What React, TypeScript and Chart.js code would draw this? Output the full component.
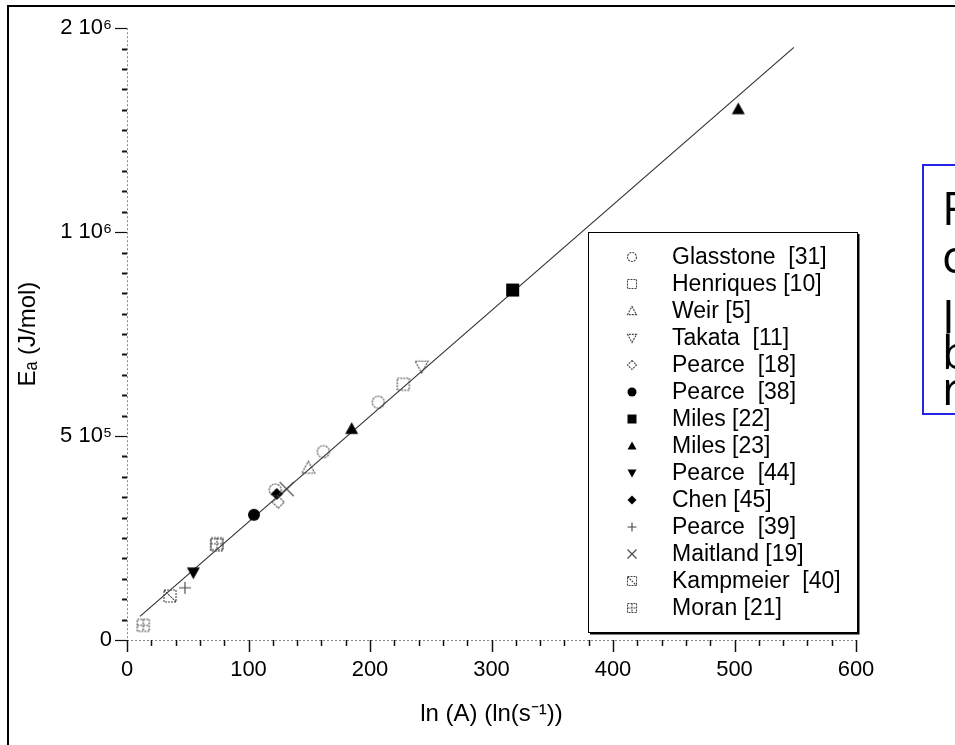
import React, { useEffect, useRef } from "react";
import { Chart, registerables } from "chart.js";

Chart.register(...registerables);

// ---------- data ----------
const seriesNames = [
  "Glasstone  [31]",
  "Henriques [10]",
  "Weir [5]",
  "Takata  [11]",
  "Pearce  [18]",
  "Pearce  [38]",
  "Miles [22]",
  "Miles [23]",
  "Pearce  [44]",
  "Chen [45]",
  "Pearce  [39]",
  "Maitland [19]",
  "Kampmeier  [40]",
  "Moran [21]",
];
const seriesMarkers = [
  "circleOpen",
  "squareOpen",
  "triUpOpen",
  "triDownOpen",
  "diamondOpen",
  "circleFilled",
  "squareFilled",
  "triUpFilled",
  "triDownFilled",
  "diamondFilled",
  "plus",
  "cross",
  "kamp",
  "moran",
];

const glasstoneLnA = [122, 161.6, 206.8];
const glasstoneEa = [368000, 462000, 583000];
const henriquesLnA = [73.8, 227.4];
const henriquesEa = [233000, 627000];
const weirLnA = [149.2];
const weirEa = [422000];
const takataLnA = [242.5];
const takataEa = [671000];
const pearce18LnA = [124.5];
const pearce18Ea = [338000];
const pearce38LnA = [104.5];
const pearce38Ea = [307000];
const miles22LnA = [317.4];
const miles22Ea = [858000];
const miles23LnA = [184.9, 503.1];
const miles23Ea = [518000, 1302000];
const pearce44LnA = [54.6];
const pearce44Ea = [165000];
const chenLnA = [123.2];
const chenEa = [358000];
const pearce39LnA = [47.7];
const pearce39Ea = [128000];
const maitlandLnA = [131.4];
const maitlandEa = [370000];
const kampmeierLnA = [35.4];
const kampmeierEa = [108000];
const moranLnA = [13.4, 74];
const moranEa = [36000, 236000];

const seriesLnA = [
  glasstoneLnA, henriquesLnA, weirLnA, takataLnA, pearce18LnA, pearce38LnA, miles22LnA,
  miles23LnA, pearce44LnA, chenLnA, pearce39LnA, maitlandLnA, kampmeierLnA, moranLnA,
];
const seriesEa = [
  glasstoneEa, henriquesEa, weirEa, takataEa, pearce18Ea, pearce38Ea, miles22Ea,
  miles23Ea, pearce44Ea, chenEa, pearce39Ea, maitlandEa, kampmeierEa, moranEa,
];

const fitLineLnA = [10.7, 548.9];
const fitLineEa = [58000, 1453000];

const xTickValues = [0, 100, 200, 300, 400, 500, 600];
const yTickValues = [0, 500000, 1000000, 1500000];
const yTickLabels = ["0", "5 10\u2075", "1 10\u2076", "2 10\u2076"];

const xAxisTitle = "ln (A) (ln(s\u207B\u00B9))";
const yAxisTitle = "E\u2090 (J/mol)";

const sideTextLines = ["F", "c", "", "I", "b", "r"];

// ---------- style ----------
const FONT = '"Liberation Sans", Arial, Helvetica, sans-serif';
const X_MINOR = 20;
const Y_MINOR = 50000;
const LEGEND = { left: 588, top: 232, right: 857, bottom: 632, markerX: 632, textX: 672, firstRow: 257, rowGap: 27 };
const SIDE_LINE_HEIGHTS = [48, 42, 18, 36, 36, 36];

function drawMarker(ctx: CanvasRenderingContext2D, kind: string, cx: number, cy: number, s: number) {
  const filled = kind.endsWith("Filled");
  ctx.save();
  ctx.lineWidth = 1.1;
  ctx.strokeStyle = filled ? "#000" : "#444";
  ctx.fillStyle = "#000";
  if (!filled) ctx.setLineDash([2, 1]);
  ctx.beginPath();
  const base = kind.replace("Open", "").replace("Filled", "");
  if (base === "circle") {
    ctx.arc(cx, cy, s, 0, Math.PI * 2);
  } else if (base === "square") {
    ctx.rect(cx - s, cy - s, 2 * s, 2 * s);
  } else if (base === "triUp") {
    ctx.moveTo(cx, cy - s);
    ctx.lineTo(cx + s, cy + s * 0.8);
    ctx.lineTo(cx - s, cy + s * 0.8);
    ctx.closePath();
  } else if (base === "triDown") {
    ctx.moveTo(cx, cy + s);
    ctx.lineTo(cx + s, cy - s * 0.8);
    ctx.lineTo(cx - s, cy - s * 0.8);
    ctx.closePath();
  } else if (base === "diamond") {
    ctx.moveTo(cx, cy - s);
    ctx.lineTo(cx + s, cy);
    ctx.lineTo(cx, cy + s);
    ctx.lineTo(cx - s, cy);
    ctx.closePath();
  } else if (kind === "plus") {
    ctx.setLineDash([]);
    ctx.moveTo(cx - s, cy);
    ctx.lineTo(cx + s, cy);
    ctx.moveTo(cx, cy - s);
    ctx.lineTo(cx, cy + s);
  } else if (kind === "cross") {
    ctx.setLineDash([]);
    ctx.moveTo(cx - s, cy - s);
    ctx.lineTo(cx + s, cy + s);
    ctx.moveTo(cx + s, cy - s);
    ctx.lineTo(cx - s, cy + s);
  } else if (kind === "kamp") {
    ctx.rect(cx - s, cy - s, 2 * s, 2 * s);
    ctx.moveTo(cx - s, cy - s);
    ctx.lineTo(cx + s, cy + s);
  } else if (kind === "moran") {
    ctx.rect(cx - s, cy - s, 2 * s, 2 * s);
    ctx.moveTo(cx - s, cy);
    ctx.lineTo(cx + s, cy);
    ctx.moveTo(cx, cy - s);
    ctx.lineTo(cx, cy + s);
  }
  if (filled) ctx.fill();
  else ctx.stroke();
  ctx.restore();
}

function markerCanvas(kind: string, s: number): HTMLCanvasElement {
  const c = document.createElement("canvas");
  const size = Math.ceil(2 * s + 4);
  c.width = size;
  c.height = size;
  const ctx = c.getContext("2d")!;
  drawMarker(ctx, kind, size / 2, size / 2, s);
  return c;
}

const axesPlugin = {
  id: "axesPlugin",
  afterDatasetsDraw(chart: any) {
    const { ctx, chartArea, scales } = chart;
    const x = scales.x;
    const y = scales.y;
    ctx.save();
    ctx.strokeStyle = "#888";
    ctx.lineWidth = 1;
    ctx.setLineDash([2, 2]);
    ctx.beginPath();
    ctx.moveTo(chartArea.left + 0.5, chartArea.top);
    ctx.lineTo(chartArea.left + 0.5, chartArea.bottom);
    ctx.moveTo(chartArea.left, chartArea.bottom + 0.5);
    ctx.lineTo(chartArea.right, chartArea.bottom + 0.5);
    ctx.stroke();
    ctx.setLineDash([]);
    ctx.strokeStyle = "#111";
    for (let v = 0; v <= y.max + 1; v += Y_MINOR) {
      const py = Math.round(y.getPixelForValue(v)) + 0.5;
      const major = yTickValues.includes(v);
      ctx.lineWidth = major ? 1.2 : 2;
      ctx.beginPath();
      ctx.moveTo(chartArea.left - (major ? 12 : 5), py);
      ctx.lineTo(chartArea.left, py);
      ctx.stroke();
    }
    for (let v = 0; v <= x.max + 0.001; v += X_MINOR) {
      const px = Math.round(x.getPixelForValue(v)) + 0.5;
      const major = xTickValues.includes(v);
      ctx.lineWidth = 1.5;
      ctx.beginPath();
      ctx.moveTo(px, chartArea.bottom);
      ctx.lineTo(px, chartArea.bottom + (major ? 12 : 6));
      ctx.stroke();
    }
    ctx.restore();
  },
};

const legendPlugin = {
  id: "boxLegend",
  afterDraw(chart: any) {
    const { ctx } = chart;
    const L = LEGEND;
    ctx.save();
    ctx.fillStyle = "#fff";
    ctx.fillRect(L.left, L.top, L.right - L.left, L.bottom - L.top);
    ctx.strokeStyle = "#000";
    ctx.lineWidth = 1;
    ctx.strokeRect(L.left + 0.5, L.top + 0.5, L.right - L.left, L.bottom - L.top);
    ctx.lineWidth = 2;
    ctx.beginPath();
    ctx.moveTo(L.left + 2, L.bottom + 1.5);
    ctx.lineTo(L.right + 1.5, L.bottom + 1.5);
    ctx.lineTo(L.right + 1.5, L.top + 2);
    ctx.stroke();
    ctx.font = `23px ${FONT}`;
    ctx.fillStyle = "#000";
    ctx.textBaseline = "middle";
    ctx.textAlign = "left";
    seriesNames.forEach((name, i) => {
      const cy = L.firstRow + i * L.rowGap;
      drawMarker(ctx, seriesMarkers[i], L.markerX, cy, 4.5);
      ctx.fillStyle = "#000";
      ctx.fillText(name, L.textX, cy + 1);
    });
    ctx.restore();
  },
};

export default function App() {
  const canvasRef = useRef<HTMLCanvasElement | null>(null);

  useEffect(() => {
    document.body.style.margin = "0";
    document.body.style.overflow = "hidden";
    const canvas = canvasRef.current!;
    const pointSizes: Record<string, number> = {
      circleOpen: 6, squareOpen: 6, triUpOpen: 6.5, triDownOpen: 6.5, diamondOpen: 6,
      circleFilled: 6, squareFilled: 6.5, triUpFilled: 6.5, triDownFilled: 6.5, diamondFilled: 6,
      plus: 6, cross: 7, kamp: 6, moran: 6,
    };
    const scatterSets = seriesNames.map((name, i) => ({
      type: "scatter" as const,
      label: name,
      data: seriesLnA[i].map((v, j) => ({ x: v, y: seriesEa[i][j] })),
      pointStyle: markerCanvas(seriesMarkers[i], pointSizes[seriesMarkers[i]]),
      pointRadius: 7,
      showLine: false,
    }));
    const lineSet = {
      type: "line" as const,
      label: "fit",
      data: fitLineLnA.map((v, j) => ({ x: v, y: fitLineEa[j] })),
      borderColor: "#333",
      borderWidth: 1.2,
      pointRadius: 0,
      showLine: true,
      fill: false,
    };

    const chart = new Chart(canvas, {
      type: "scatter",
      data: { datasets: [...scatterSets, lineSet] as any },
      options: {
        responsive: false,
        animation: false,
        devicePixelRatio: 1,
        layout: { padding: { left: 0, top: 18, right: 99, bottom: 0 } },
        plugins: { legend: { display: false }, tooltip: { enabled: false } },
        scales: {
          x: {
            type: "linear",
            min: 0,
            max: 600,
            afterBuildTicks: (s: any) => {
              s.ticks = xTickValues.map((v) => ({ value: v }));
            },
            afterFit: (s: any) => {
              s.height = 105;
            },
            grid: { display: false, drawTicks: false },
            border: { display: false },
            ticks: { color: "#000", font: { family: FONT, size: 22 }, padding: 17, autoSkip: false, maxRotation: 0 },
            title: { display: true, text: xAxisTitle, color: "#000", font: { family: FONT, size: 24 }, padding: { top: 0, bottom: 16 } },
          },
          y: {
            type: "linear",
            min: 0,
            max: 1500000,
            afterBuildTicks: (s: any) => {
              s.ticks = yTickValues.map((v) => ({ value: v }));
            },
            afterFit: (s: any) => {
              s.width = 127;
            },
            grid: { display: false, drawTicks: false },
            border: { display: false },
            ticks: {
              color: "#000",
              font: { family: FONT, size: 22 },
              padding: 15,
              autoSkip: false,
              callback: (value: any) => {
                const i = yTickValues.indexOf(Number(value));
                return i >= 0 ? yTickLabels[i] : "";
              },
            },
            title: { display: true, text: yAxisTitle, color: "#000", font: { family: FONT, size: 24 }, padding: { top: 14, bottom: 0 } },
          },
        },
      },
      plugins: [axesPlugin, legendPlugin],
    });
    return () => chart.destroy();
  }, []);

  return (
    <div style={{ position: "relative", width: 955, height: 745, overflow: "hidden", background: "#fff" }}>
      <canvas ref={canvasRef} width={955} height={745} style={{ position: "absolute", left: 0, top: 0 }} />
      <div
        style={{
          position: "absolute",
          left: 7,
          top: 5,
          width: 960,
          height: 760,
          borderTop: "2px solid #000",
          borderLeft: "2px solid #000",
          pointerEvents: "none",
        }}
      />
      <div
        style={{
          position: "absolute",
          left: 922,
          top: 164,
          width: 140,
          height: 251,
          border: "2px solid #2424e6",
          boxSizing: "border-box",
          background: "#fff",
          fontFamily: '"Open Sans", "Noto Sans", sans-serif',
          fontSize: 46,
          lineHeight: "42px",
          color: "#000",
          paddingLeft: 18,
          paddingTop: 20,
          whiteSpace: "pre",
        }}
      >
        {sideTextLines.map((t, i) => (
          <div key={i} style={{ height: SIDE_LINE_HEIGHTS[i] }}>{t}</div>
        ))}
      </div>
    </div>
  );
}
